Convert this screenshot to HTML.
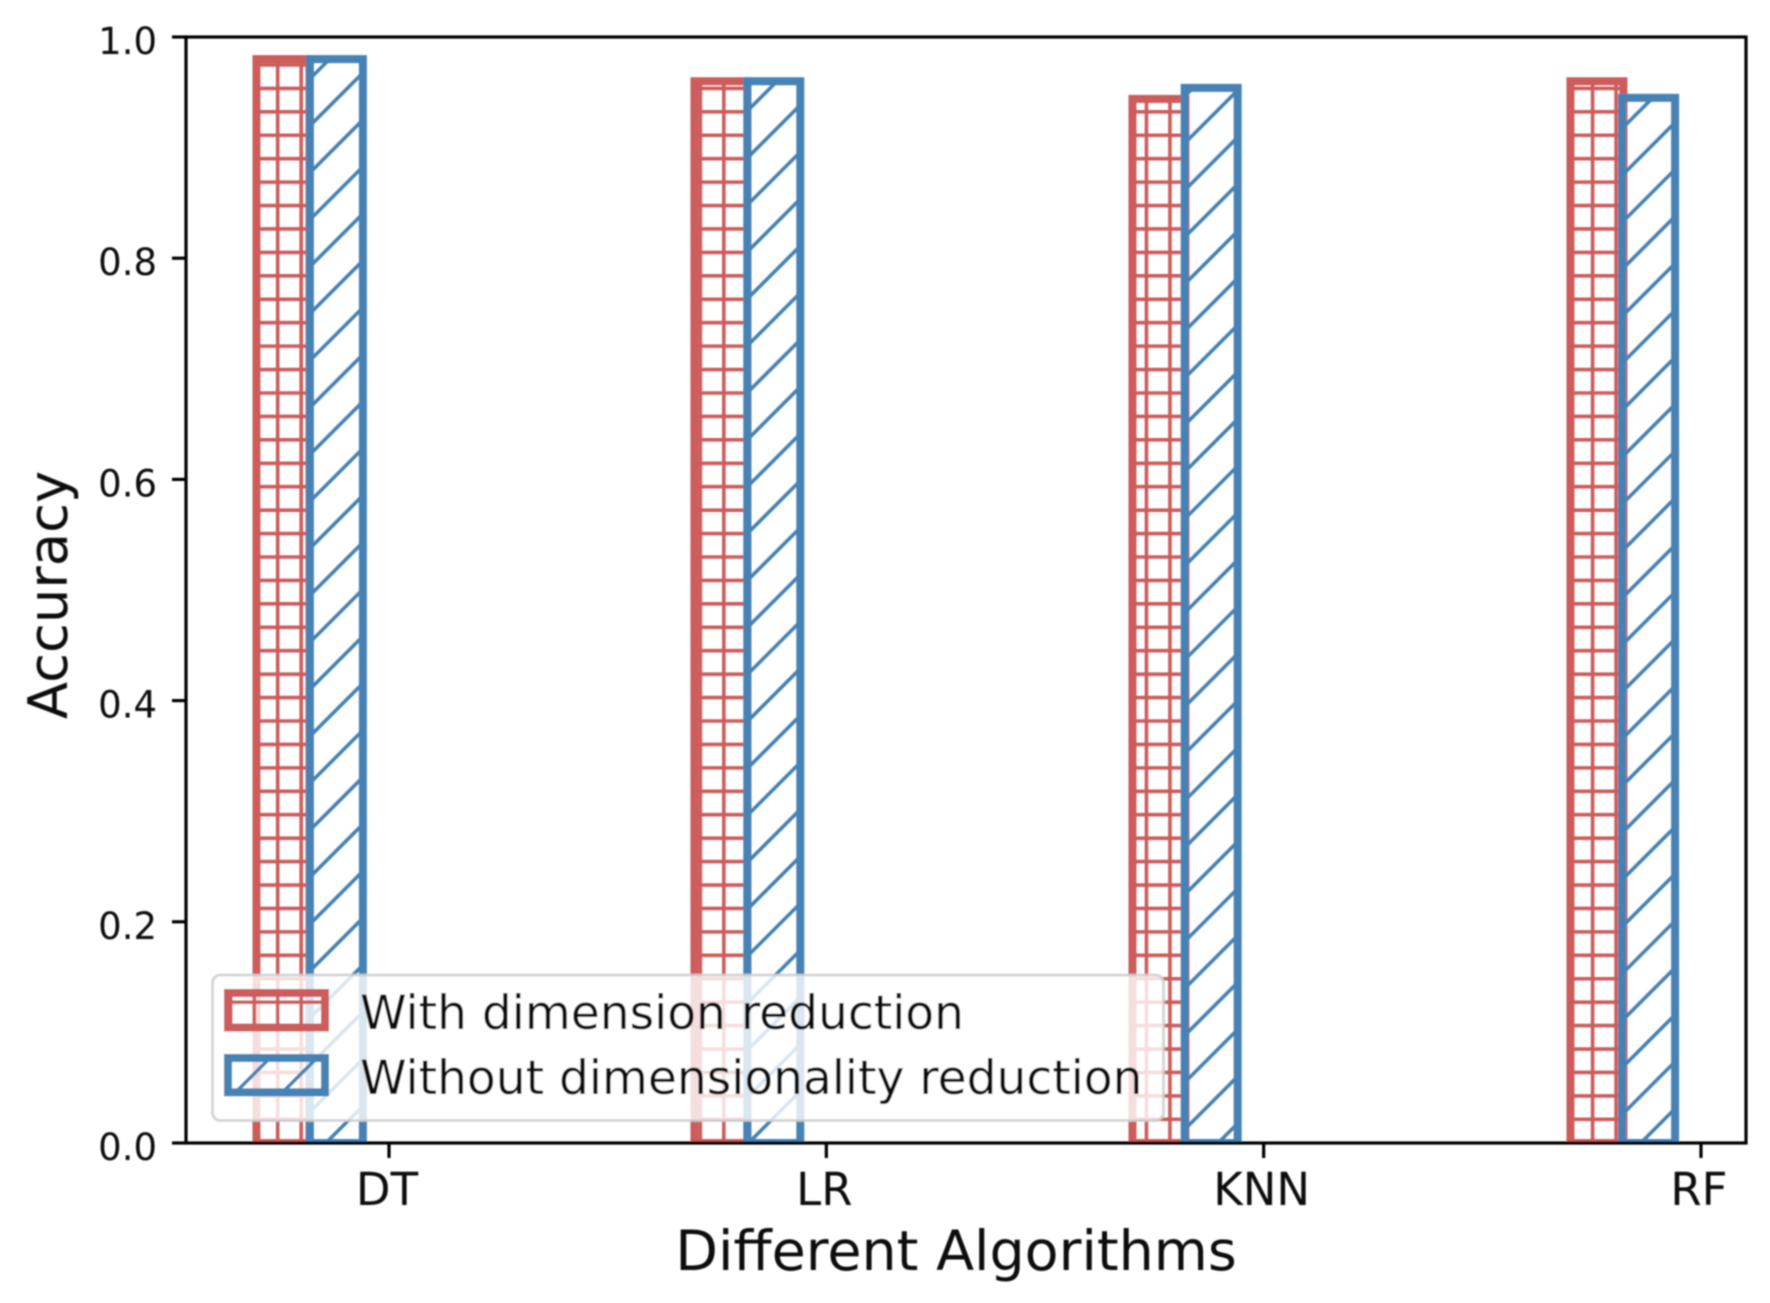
<!DOCTYPE html>
<html>
<head>
<meta charset="utf-8">
<title>Accuracy chart</title>
<style>
  html, body { margin: 0; padding: 0; background: #fff; }
  #chart { display: block; width: 1770px; height: 1303px; }
  text { font-family: "DejaVu Sans", "Liberation Sans", sans-serif; fill: #0c0c0c; }
</style>
</head>
<body>
<svg id="chart" xmlns="http://www.w3.org/2000/svg" width="1770" height="1303" viewBox="0 0 1770 1303">
  <defs>
    <filter id="soft" x="0" y="0" width="100%" height="100%"><feGaussianBlur stdDeviation="0.85"/></filter>
    <clipPath id="axes-clip"><rect x="186" y="37" width="1560" height="1106"/></clipPath>
  </defs>
  <g id="root" filter="url(#soft)"></g>
</svg>
<script>
const categories = ["DT", "LR", "KNN", "RF"];
const withReduction = [0.98, 0.96, 0.944, 0.96];
const withoutReduction = [0.98, 0.96, 0.954, 0.945];
const yTickValues = [0, 0.2, 0.4, 0.6, 0.8, 1.0];
const yTickLabels = ["0.0", "0.2", "0.4", "0.6", "0.8", "1.0"];
const legendLabels = ["With dimension reduction", "Without dimensionality reduction"];

const NS = "http://www.w3.org/2000/svg";
const root = document.getElementById("root");
const plot = { left: 186, right: 1746, top: 37, bottom: 1143 };
const RED = "#cd5c5c";
const BLUE = "#4682b4";

function yScale(v) { return plot.bottom - v * (plot.bottom - plot.top); }
function xTick(i) { return 389 + i * 437.33; }
const barWidth = 53;
function barLeft(i, seriesIndex) {
  return seriesIndex === 0 ? 256.45 + i * 438 : 309.9 + i * 437.4;
}

function make(tag, attrs, parent) {
  const el = document.createElementNS(NS, tag);
  for (const k in attrs) el.setAttribute(k, attrs[k]);
  (parent || root).appendChild(el);
  return el;
}

/* hatch geometry is anchored to the figure, as matplotlib does */
function gridHatchPath(x0, y0, x1, y1) {
  let d = "";
  const sx = 23.48, sy = 23.43;
  for (let x = 277.7 + Math.ceil((x0 - 277.7) / sx) * sx; x <= x1; x += sx) d += "M" + x.toFixed(2) + " " + y0 + "V" + y1;
  for (let y = 88.4 + Math.ceil((y0 - 88.4) / sy) * sy; y <= y1; y += sy) d += "M" + x0 + " " + y.toFixed(2) + "H" + x1;
  return d;
}
function slashHatchPath(x0, y0, x1, y1) {
  let d = "";
  const s = 46.96;
  for (let c = 13.06 + Math.ceil((x0 + y0 - 13.06) / s) * s; c <= x1 + y1; c += s) {
    d += "M" + (c - y1).toFixed(2) + " " + y1 + "L" + (c - y0).toFixed(2) + " " + y0;
  }
  return d;
}
let clipCounter = 0;
function drawHatched(x, y, w, h, color, hatchFn, parent) {
  const g = make("g", {}, parent);
  const id = "hatch-clip-" + (clipCounter++);
  const defs = make("clipPath", { id: id }, g);
  make("rect", { x: x, y: y, width: w, height: h }, defs);
  const hatch = make("path", {
    d: hatchFn(x, y, x + w, y + h),
    fill: "none",
    stroke: color,
    "stroke-width": 3.6,
    "clip-path": "url(#" + id + ")"
  }, g);
  
  
  const edge = make("rect", { x: x, y: y, width: w, height: h, fill: "none", stroke: color, "stroke-width": 8 }, g);
  
  
  return g;
}

/* bars */
const barsLayer = make("g", { "clip-path": "url(#axes-clip)" });


categories.forEach(function (cat, i) {
  const redTop = yScale(withReduction[i]);
  const g1 = drawHatched(barLeft(i, 0), redTop, barWidth, yScale(0) - redTop, RED, gridHatchPath, barsLayer);
  
  
});
categories.forEach(function (cat, i) {
  const blueTop = yScale(withoutReduction[i]);
  const g2 = drawHatched(barLeft(i, 1), blueTop, barWidth, yScale(0) - blueTop, BLUE, slashHatchPath, barsLayer);
  
  
});

/* axes frame */
const frame = make("rect", { x: plot.left, y: plot.top, width: plot.right - plot.left, height: plot.bottom - plot.top, fill: "none", stroke: "#000", "stroke-width": 3.2 });



/* y axis */
yTickValues.forEach(function (v, i) {
  const y = yScale(v);
  const t = make("line", { x1: 172, x2: plot.left, y1: y, y2: y, stroke: "#000", "stroke-width": 3.2 });
  
  
  const l = make("text", { x: 157, y: y + 17, "text-anchor": "end", "font-size": 37 });
  
  
  l.textContent = yTickLabels[i];
});

/* x axis */
categories.forEach(function (cat, i) {
  const x = xTick(i);
  const t = make("line", { x1: x, x2: x, y1: plot.bottom, y2: 1158, stroke: "#000", "stroke-width": 3.2 });
  
  
  const l = make("text", { x: x - 2, y: 1205, "text-anchor": "middle", "font-size": 45 });
  
  
  l.textContent = cat;
});

/* axis titles */
const xTitle = make("text", { x: 956, y: 1270, "text-anchor": "middle", "font-size": 55.5 });


xTitle.textContent = "Different Algorithms";
const yTitle = make("text", { transform: "translate(66.7 595) rotate(-90)", "text-anchor": "middle", "font-size": 54.4 });


yTitle.textContent = "Accuracy";

/* legend */
const legend = make("g", {});


const legendBox = make("rect", { x: 212.5, y: 975, width: 951, height: 145.5, rx: 8, ry: 8, fill: "#fff", "fill-opacity": 0.8, stroke: "#cccccc", "stroke-opacity": 0.85, "stroke-width": 2.8 }, legend);



const swatch1 = drawHatched(228, 993, 97, 34.5, RED, gridHatchPath, legend);


const swatch2 = drawHatched(228, 1058, 97, 34.3, BLUE, slashHatchPath, legend);



const legendText1 = make("text", { x: 360, y: 1029, "font-size": 47.1 }, legend);


legendText1.textContent = legendLabels[0];
const legendText2 = make("text", { x: 360, y: 1094, "font-size": 47.1 }, legend);


legendText2.textContent = legendLabels[1];
</script>
</body>
</html>
